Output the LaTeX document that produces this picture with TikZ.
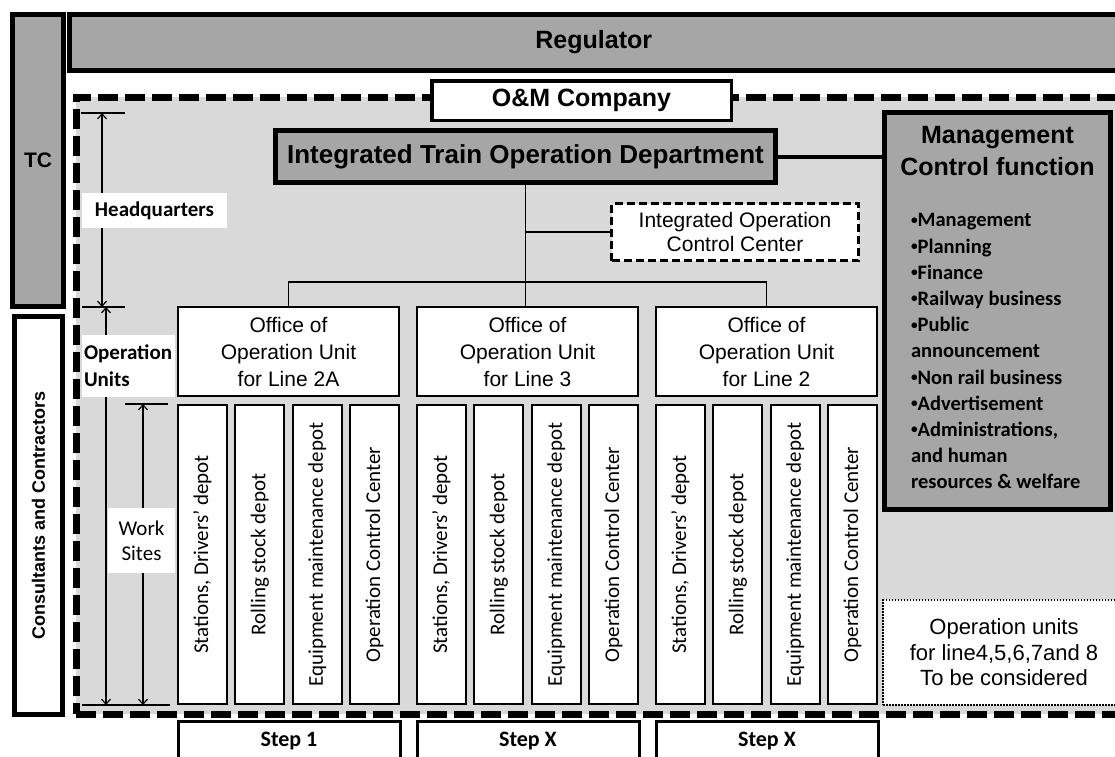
\documentclass[tikz,border=0pt]{standalone}
\usepackage{fontspec}
\setmainfont{Liberation Sans}
\newfontfamily\calfont{Carlito}
\usetikzlibrary{arrows.meta,calc}
\definecolor{boxgray}{HTML}{A6A6A6}
\definecolor{areagray}{HTML}{D9D9D9}
\newcommand\fsize[2]{\fontsize{#1}{#2}\selectfont}
% small list bullet
\newcommand\bul{\raisebox{0.12em}{\scalebox{0.65}{•}}}
\begin{document}
\begin{tikzpicture}[x=1pt,y=-1pt,
  every node/.style={inner sep=0pt,outer sep=0pt},
  heavy/.style={draw=black,line width=5pt,fill=boxgray},
  omarea/.style={draw=black,line width=7pt,dash pattern=on 20pt off 7pt,fill=areagray},
  office/.style={draw=black,line width=2pt,fill=white,minimum width=221pt,minimum height=89pt,
    align=center,font=\fsize{21}{27}},
  sitebox/.style={draw=black,line width=2pt,fill=white,rotate=90,minimum width=299pt,
    minimum height=49pt,font=\calfont\fsize{21}{25}},
  stepbox/.style={draw=black,line width=3pt,fill=white,minimum width=222pt,minimum height=38.5pt,
    font=\calfont\bfseries\fsize{22}{26}},
  tree/.style={line width=1.5pt},
  dim/.style={line width=1.2pt},
  dimarrow/.style={dim,-{Straight Barb[length=5pt,width=9pt,line width=1.2pt]}},
  sidelabel/.style={fill=white}]
\useasboundingbox (0,0) rectangle (1115,756);
\clip (0,0) rectangle (1115,756);
\fill[white] (0,0) rectangle (1115,756);

% outer frame: TC, Regulator, consultants
\node[heavy,minimum width=51pt,minimum height=292pt,font=\bfseries\fsize{21}{25}] (tc) at (38,160.5) {TC};
\node[heavy,minimum width=1048.5pt,minimum height=56pt,font=\bfseries\fsize{25}{30}] (reg) at (593.75,42.5) {Regulator};
\node[draw=black,line width=5pt,fill=white,rotate=90,minimum width=398pt,minimum height=48pt,
  font=\bfseries\fsize{18}{22}] (cc) at (38.5,515.5) {Consultants and Contractors};

% O&M company area
\node[omarea,minimum width=1049pt,minimum height=617pt] (om) at (600.5,405.5) {};
\node[draw=black,line width=3.5pt,fill=white,minimum width=299.5pt,minimum height=39.5pt,
  font=\bfseries\fsize{25}{30}] (omco) at (581.5,100.5) {O\&M Company};

% headquarters level
\node[heavy,minimum width=500pt,minimum height=52pt,font=\bfseries\fsize{26}{30}] (itod) at (525.5,156.5)
  {Integrated Train Operation Department};
\node[heavy,minimum width=226pt,minimum height=397pt] (mcf) at (997.5,311) {};
\node[align=center,font=\bfseries\fsize{25}{32}] (mcftitle) at (997.5,151) {Management\\Control function};
\node[anchor=north west,align=left,font=\calfont\bfseries\fsize{20.5}{26.2}] (mcflist) at (911,213.5)
  {\bul Management\\\bul Planning\\\bul Finance\\\bul Railway business\\\bul Public\\announcement\\
   \bul Non rail business\\\bul Advertisement\\\bul Administrations,\\and human\\resources \& welfare};
\draw[line width=4pt] (itod.east) -- (mcf.west |- itod.east);

\node[draw=black,line width=3pt,dash pattern=on 8pt off 4pt,fill=white,minimum width=247pt,
  minimum height=57pt,align=center,font=\fsize{21}{23.5}] (iocc) at (735,232)
  {Integrated Operation\\Control Center};

% operation unit offices
\node[office] (offa) at (288.5,351.5) {Office of\\Operation Unit\\for Line 2A};
\node[office] (offb) at (527.5,351.5) {Office of\\Operation Unit\\for Line 3};
\node[office] (offc) at (766.5,351.5) {Office of\\Operation Unit\\for Line 2};

\coordinate (bus) at (0,282);
\draw[tree] (itod.south) -- (itod.south |- offb.north);
\draw[tree] (itod.south |- iocc.west) -- (iocc.west);
\draw[tree] (offa.north) -- (offa.north |- bus) -- (offc.north |- bus) -- (offc.north);

% work sites
\foreach \g/\L in {a/177,b/416,c/655}{
  \foreach \k/\txt in {0/{Stations, Drivers’ depot},1/{Rolling stock depot},
                       2/{Equipment maintenance depot},3/{Operation Control Center}}{
    \node[sitebox] (site\g\k) at ({\L+25.5+\k*57.33},554.5) {\txt};
  }
}

% lines still to be organised
\node[draw=black,line width=1.5pt,dash pattern=on 1.5pt off 1.5pt,fill=white,minimum width=242pt,
  minimum height=105pt,align=center,font=\fsize{22}{25.5}] (future) at (1004,652.5)
  {Operation units\\for line4,5,6,7and 8\\To be considered};

% implementation steps
\node[stepbox] (st1) at (289,740.75) {Step 1};
\node[stepbox] (st2) at (528,740.75) {Step X};
\node[stepbox] (st3) at (767,740.75) {Step X};

% level dimensions on the left
\coordinate (hqtop) at (102,113);
\coordinate (hqbot) at (102,307);
\coordinate (outop) at (106,307);
\coordinate (oubot) at (106,705);
\coordinate (wstop) at (143,404);
\coordinate (wsbot) at (143,705);

\node[sidelabel,minimum width=145pt,minimum height=35pt,font=\calfont\bfseries\fsize{21}{25}] (hqlab)
  at (154.5,210.5) {Headquarters};
\node[sidelabel,minimum width=93pt,minimum height=62pt,text width=89pt,align=left,
  font=\calfont\bfseries\fsize{21}{27}] (oulab) at (128.5,366) {Operation\\Units};
\node[sidelabel,minimum width=67pt,minimum height=65pt,align=center,font=\calfont\fsize{21}{25}] (wslab)
  at (141.5,540.5) {Work\\Sites};

\draw[dim] ($(hqtop)+(-21,0)$) -- ($(hqtop)+(23,0)$);
\draw[dim] ($(hqbot)+(-20,0)$) -- ($(hqbot)+(23,0)$);
\draw[dim] ($(wstop)+(-18,0)$) -- ($(wstop)+(25,0)$);
\draw[dim] ($(oubot)+(-24,0)$) -- ($(oubot)+(64,0)$);

\draw[dimarrow] (hqlab.north -| hqtop) -- (hqtop);
\draw[dimarrow] (hqlab.south -| hqbot) -- (hqbot);
\draw[dimarrow] (oulab.north -| outop) -- (outop);
\draw[dimarrow] (oulab.south -| oubot) -- (oubot);
\draw[dimarrow] (wslab.north -| wstop) -- (wstop);
\draw[dimarrow] (wslab.south -| wsbot) -- (wsbot);
\end{tikzpicture}
\end{document}
